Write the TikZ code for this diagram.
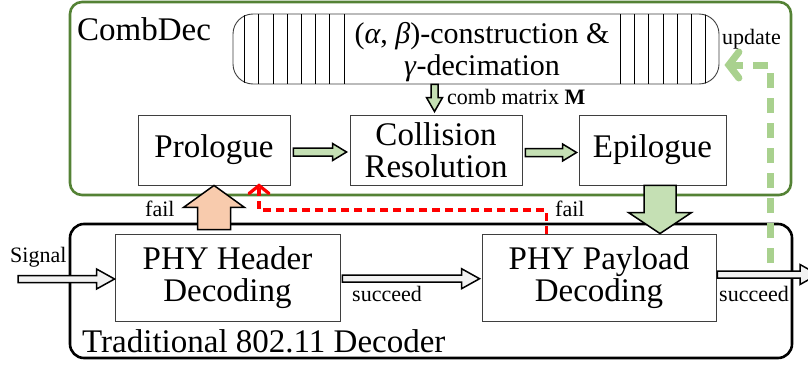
\documentclass[tikz,border=0pt]{standalone}
\usepackage{fontspec}
\setmainfont{Liberation Serif}
\usetikzlibrary{arrows.meta,calc}

\definecolor{cdgreen}{HTML}{548235}
\definecolor{lgreen}{HTML}{C5E0B4}
\definecolor{peach}{HTML}{F8CBAD}
\definecolor{updgreen}{HTML}{A9D18E}
\definecolor{lgray}{HTML}{F2F2F2}
\definecolor{boxgray}{HTML}{3F3F3F}

\tikzset{
	stage/.style = {draw=boxgray, line width=0.9pt, fill=white, align=center, inner sep=0pt,
		font=\fontsize{33}{32}\selectfont},
	combbox/.style = {draw=cdgreen, line width=2.6pt, rounded corners=12pt, inner sep=0pt},
	tradbox/.style = {draw=black, line width=2.6pt, rounded corners=14pt, inner sep=0pt},
	big/.style = {font=\fontsize{33}{32}\selectfont, inner sep=0pt},
	small/.style = {font=\fontsize{22}{22}\selectfont, inner sep=0pt},
	fat/.style = {draw=black, line width=1.5pt, line join=miter},
	faildash/.style = {draw=red, line width=3.2pt, dash pattern=on 8pt off 5pt,
		-{Straight Barb[length=8pt,width=20pt,line cap=round]}},
	upddash/.style = {draw=updgreen, line width=7pt, dash pattern=on 15pt off 10pt,
		-{Straight Barb[length=10pt,width=26pt,line cap=round]}}
}

% fat block arrows: style, from, to, shaft half width, head half width, head length
\newcommand{\hfat}[6][]{%
	\draw[fat,#1] let \p1=(#2), \p2=(#3) in
		(\x1,{\y1+#4pt}) -- ({\x2-(#6pt)},{\y1+#4pt}) -- ({\x2-(#6pt)},{\y1+#5pt}) -- (\x2,\y1)
		-- ({\x2-(#6pt)},{\y1-#5pt}) -- ({\x2-(#6pt)},{\y1-#4pt}) -- (\x1,{\y1-#4pt}) -- cycle;}
\newcommand{\vfat}[6][]{%
	\draw[fat,#1] let \p1=(#2), \p2=(#3) in
		({\x1-#4pt},\y1) -- ({\x1-#4pt},{\y2-(#6pt)}) -- ({\x1-#5pt},{\y2-(#6pt)}) -- (\x1,\y2)
		-- ({\x1+#5pt},{\y2-(#6pt)}) -- ({\x1+#4pt},{\y2-(#6pt)}) -- ({\x1+#4pt},\y1) -- cycle;}

\begin{document}
\begin{tikzpicture}[x=1pt,y=-1pt]
	\useasboundingbox (0,0) rectangle (808,364);

	% the two decoders
	\node[combbox, minimum width=721pt, minimum height=193pt] (comb) at (430.5,98.5) {};
	\node[tradbox, minimum width=722pt, minimum height=134pt] (trad) at (431,291) {};
	\node[big, anchor=base west] (comblbl) at (77,40) {CombDec};
	\node[big, anchor=base west] (tradlbl) at (82,352) {Traditional 802.11 Decoder};

	% comb generator
	\node[draw=boxgray, line width=0.9pt, rounded corners=20pt, minimum width=486pt,
		minimum height=70pt, inner sep=0pt] (gen) at (476,49) {};
	\begin{scope}
		\clip[rounded corners=20pt] (gen.south west) rectangle (gen.north east);
		\foreach \i in {0,...,7} {
			\draw[line width=0.7pt] (344-14.2*\i,14) -- (344-14.2*\i,84);
		}
		\foreach \i in {0,...,6} {
			\draw[line width=0.7pt] (620+14.3*\i,14) -- (620+14.3*\i,84);
		}
	\end{scope}
	\node[align=center, inner sep=0pt, font=\fontsize{30}{32}\selectfont] (genlbl) at (482,52)
		{(\textit{α}, \textit{β})-construction \&\\\textit{γ}-decimation};

	% stages
	\node[stage, minimum width=152pt, minimum height=70pt] (prologue) at (214,150) {Prologue};
	\node[stage, minimum width=172pt, minimum height=70pt] (collision) at (436,150) {Collision\\Resolution};
	\node[stage, minimum width=147pt, minimum height=70pt] (epilogue) at (652.5,150) {Epilogue};
	\node[stage, minimum width=225pt, minimum height=87pt] (header) at (227.5,277.5) {PHY Header\\Decoding};
	\node[stage, minimum width=234pt, minimum height=87pt] (payload) at (599,277.5) {PHY Payload\\Decoding};

	\coordinate (sig) at (18,279);
	\coordinate (out) at (818,274.5);
	\coordinate (failturn) at (259,210);
	\coordinate (updstart) at (770,263);
	\coordinate (updturn) at (770,65);

	% block arrows
	\hfat[fill=lgreen]{[xshift=3,yshift=-2]prologue.east}{[xshift=-3,yshift=-2]collision.west}{4}{8.5}{14}
	\hfat[fill=lgreen]{[xshift=3,yshift=-2.5]collision.east}{[xshift=-2,yshift=-2.5]epilogue.west}{4}{8.5}{14}
	\hfat[fill=lgray]{sig}{sig -| header.west}{3.5}{10}{18}
	\hfat[fill=lgray]{[xshift=2,yshift=-1.2]header.east}{[xshift=-2,yshift=-1.2]payload.west}{3.5}{10}{18}
	\hfat[fill=lgray]{[xshift=1]payload.east |- out}{out}{3.5}{10}{18}
	\vfat[fill=lgreen]{[xshift=-41.5]gen.south}{[xshift=-41.5,yshift=3]gen.south |- collision.north}{3.5}{8}{-14}
	\vfat[fill=peach]{[yshift=4]header.north -| prologue.south}{prologue.south}{16.5}{30.5}{22}
	\vfat[fill=lgreen]{[xshift=7.5]epilogue.south}{[xshift=7.5]epilogue.south |- payload.north}{16}{31.5}{-21}

	% fail and update paths
	\draw[faildash] ([xshift=65]payload.north west) |- (failturn) -- ([yshift=2]failturn |- prologue.south);
	\draw[upddash] (updstart) -- (updturn) -- ([xshift=5]updturn -| gen.east);

	% labels
	\node[small, anchor=base west] (cm) at (447,104) {comb matrix \textbf{M}};
	\node[small, anchor=base west] (upd) at (722,44) {update};
	\node[small, anchor=base west] (failL) at (145,216) {fail};
	\node[small, anchor=base west] (failR) at (555,216) {fail};
	\node[small, anchor=base west] (sigl) at (10,262) {Signal};
	\node[small, anchor=base west] (succA) at (352,301) {succeed};
	\node[small, anchor=base west] (succB) at (719,301) {succeed};
\end{tikzpicture}
\end{document}
